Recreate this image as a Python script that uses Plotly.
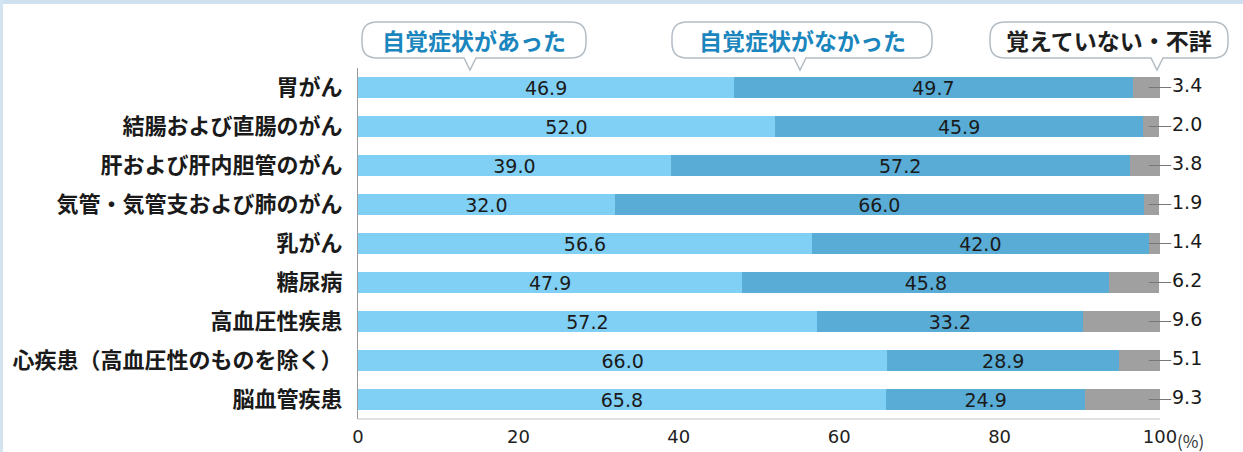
import plotly.graph_objects as go

categories = ["胃がん", "結腸および直腸のがん", "肝および肝内胆管のがん", "気管・気管支および肺のがん",
              "乳がん", "糖尿病", "高血圧性疾患", "心疾患（高血圧性のものを除く）", "脳血管疾患"]
aware = [46.9, 52.0, 39.0, 32.0, 56.6, 47.9, 57.2, 66.0, 65.8]
not_aware = [49.7, 45.9, 57.2, 66.0, 42.0, 45.8, 33.2, 28.9, 24.9]
unknown = [3.4, 2.0, 3.8, 1.9, 1.4, 6.2, 9.6, 5.1, 9.3]
series_names = ["自覚症状があった", "自覚症状がなかった", "覚えていない・不詳"]
x_ticks = [0, 20, 40, 60, 80, 100]

W_PX, H_PX = 1243, 452
L, T = 358, 68
PW, PH = 830, 351
B = H_PX - T - PH
R = W_PX - L - PW
XMAX = 100 * PW / 802.0

NUM_FONT = "DejaVu Sans, Noto Sans CJK JP, sans-serif"
JP_FONT = "Noto Sans CJK JP, sans-serif"

fig = go.Figure()
fig.add_trace(go.Bar(
    y=categories, x=aware, orientation="h", name=series_names[0],
    marker=dict(color="#80cff4", line=dict(width=0)),
    text=[f"{v:.1f}" for v in aware], textposition="inside", insidetextanchor="middle",
    textfont=dict(size=19, color="#1a1a1a", family=NUM_FONT), constraintext="none",
))
fig.add_trace(go.Bar(
    y=categories, x=not_aware, orientation="h", name=series_names[1],
    marker=dict(color="#58acd5", line=dict(width=0)),
    text=[f"{v:.1f}" for v in not_aware], textposition="inside", insidetextanchor="middle",
    textfont=dict(size=19, color="#1a1a1a", family=NUM_FONT), constraintext="none",
))
fig.add_trace(go.Bar(
    y=categories, x=unknown, orientation="h", name=series_names[2],
    marker=dict(color="#a0a0a0", line=dict(width=0)),
))

# leader lines and outside labels for the unknown series
lx, ly = [], []
for c in categories:
    lx += [98.6, 101.4, None]
    ly += [c, c, None]
fig.add_trace(go.Scatter(x=lx, y=ly, mode="lines", line=dict(color="#777777", width=1),
                         hoverinfo="skip", cliponaxis=False))
fig.add_trace(go.Scatter(
    x=[101.5] * len(categories), y=categories, mode="text",
    text=[f"{v:.1f}" for v in unknown], textposition="middle right",
    textfont=dict(size=19, color="#1a1a1a", family=NUM_FONT), cliponaxis=False, hoverinfo="skip",
))


def px2paper(x, y):
    return (x - L) / PW, (H_PX - B - y) / PH


def bubble_path(x0, y0, x1, y1, cx, tail_y, r=15, tw=6):
    pts = []

    def P(cmd, *xy):
        s = cmd
        for i in range(0, len(xy), 2):
            px, py = px2paper(xy[i], xy[i + 1])
            s += f" {px:.5f},{py:.5f}"
        pts.append(s)
    P("M", x0 + r, y0)
    P("L", x1 - r, y0)
    P("Q", x1, y0, x1, y0 + r)
    P("L", x1, y1 - r)
    P("Q", x1, y1, x1 - r, y1)
    P("L", cx + tw, y1)
    P("L", cx, tail_y)
    P("L", cx - tw, y1)
    P("L", x0 + r, y1)
    P("Q", x0, y1, x0, y1 - r)
    P("L", x0, y0 + r)
    P("Q", x0, y0, x0 + r, y0)
    return " ".join(pts) + " Z"


bubbles = [
    (362, 22, 586, 58, 470, 70, "#1a86bd"),
    (672, 22, 932, 58, 800, 70, "#1a86bd"),
    (990, 22, 1228, 58, 1157, 70, "#1e1e1e"),
]
shapes = []
annotations = []
for (x0, y0, x1, y1, cx, ty, col), name in zip(bubbles, series_names):
    shapes.append(dict(type="path", xref="paper", yref="paper", path=bubble_path(x0, y0, x1, y1, cx, ty),
                       line=dict(color="#b4bcc4", width=1.5), fillcolor="white", layer="above"))
    ax, ay = px2paper((x0 + x1) / 2, (y0 + y1) / 2)
    annotations.append(dict(xref="paper", yref="paper", x=ax, y=ay, text=f"<b>{name}</b>",
                            showarrow=False, xanchor="center", yanchor="middle",
                            font=dict(size=23, color=col, family=JP_FONT)))

# frame band at the top and a thin line at the left
shapes.append(dict(type="rect", xref="paper", yref="paper",
                   x0=px2paper(0, 0)[0], x1=px2paper(W_PX, 0)[0],
                   y0=px2paper(0, 0)[1], y1=px2paper(0, 4)[1],
                   line=dict(width=0), fillcolor="#cfe0ee"))
shapes.append(dict(type="line", xref="paper", yref="paper",
                   x0=px2paper(1.5, 0)[0], x1=px2paper(1.5, 0)[0],
                   y0=px2paper(0, 0)[1], y1=px2paper(0, H_PX)[1],
                   line=dict(color="#d3e3ef", width=3)))
# bottom baseline under the bars (from 0 to 100)
shapes.append(dict(type="line", xref="x", yref="paper", x0=0, x1=100, y0=0, y1=0,
                   line=dict(color="#c4c4c4", width=1)))

annotations.append(dict(xref="x", yref="paper", x=100, y=0, text="(%)", showarrow=False,
                        xanchor="left", yanchor="top", xshift=15, yshift=-7,
                        font=dict(size=17, color="#333333", family=JP_FONT)))

fig.update_layout(
    barmode="stack",
    bargap=0.48,
    width=W_PX, height=H_PX,
    margin=dict(l=L, r=R, t=T, b=B, autoexpand=False),
    paper_bgcolor="white", plot_bgcolor="white",
    showlegend=False,
    shapes=shapes,
    annotations=annotations,
    xaxis=dict(range=[0, XMAX], tickvals=x_ticks, ticktext=[str(v) for v in x_ticks],
               showgrid=False, zeroline=False, showline=False, ticks="", automargin=False,
               tickfont=dict(size=18, color="#222222", family=NUM_FONT), ticklabelstandoff=5),
    yaxis=dict(autorange="reversed", showgrid=False, zeroline=False, showline=True,
               linecolor="#9a9a9a", linewidth=1, ticks="", automargin=False,
               tickfont=dict(size=22, color="#1a1a1a", family=JP_FONT, weight=600),
               ticklabelstandoff=10),
)

fig.write_html("out.html", config={"displayModeBar": False},
               post_script="document.body.style.margin='0';")
